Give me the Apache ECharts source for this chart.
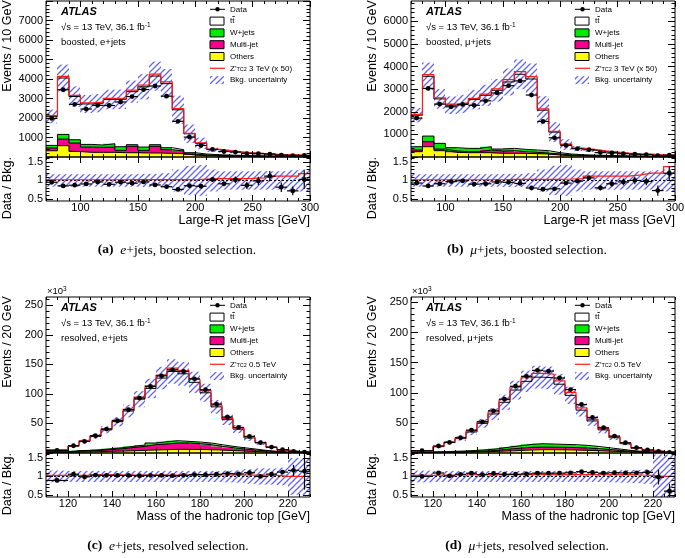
<!DOCTYPE html>
<html><head><meta charset="utf-8">
<script src="https://cdn.jsdelivr.net/npm/echarts@6.0.0/dist/echarts.min.js"></script>
<style>html,body{margin:0;padding:0;background:#fff;}#chart{width:685px;height:558px;}</style>
</head><body><div id="chart"></div>
<script>
// ---------- bin edges ----------
const boostedEdges = [70,80,90,100,110,120,130,140,150,160,170,180,190,200,210,220,230,240,250,260,270,280,290,300];
const resolvedEdges = [110,120,125,130,135,140,145,150,155,160,165,170,175,180,185,190,195,200,205,210,215,220,225,230];

// ---------- tick labels ----------
const boostedXTicks = [100,150,200,250,300];
const resolvedXTicks = [120,140,160,180,200,220];
const boostedEYTicks = [1000,2000,3000,4000,5000,6000,7000];
const boostedMuYTicks = [1000,2000,3000,4000,5000,6000];
const resolvedYTicks = [50,100,150,200,250];
const ratioYTicks = [0.5,1,1.5];

// ---------- (a) e+jets boosted ----------
const aData     = [1980,3450,2700,2460,2650,2640,2820,3100,3460,3640,3120,1830,1020,590,390,282,255,178,168,151,94,68,77];
const aDataErr  = [0.02,0.015,0.02,0.02,0.02,0.02,0.02,0.02,0.02,0.02,0.02,0.025,0.035,0.04,0.06,0.07,0.09,0.1,0.11,0.14,0.13,0.12,0.25];
const aTtbar    = [1484,2892,2215,2074,2146,2270,2433,2720,3090,3520,3284,2046,969,547,261,210,165,137,110,85,70,55,40];
const aWjets    = [136,238,170,136,119,170,187,85,170,85,102,68,68,51,34,32,34,17,20,15,15,15,13];
const aMultijet = [140,340,425,270,255,270,120,325,135,340,187,136,51,34,34,34,17,34,23,20,15,13,12];
const aOthers   = [320,580,290,240,240,240,220,220,205,205,187,170,102,68,51,34,34,17,17,15,15,12,10];
const aSignal   = [42,81,62,54,55,59,59,84,90,104,94,60,24,25,19,16,13,12,12,16,14,11,14];
const aBkgUnc   = [0.17,0.17,0.17,0.17,0.17,0.17,0.17,0.17,0.18,0.18,0.2,0.3,0.4,0.42,0.3,0.25,0.25,0.25,0.25,0.25,0.25,0.28,0.3];

// ---------- (b) mu+jets boosted ----------
const bData     = [1720,3035,2340,2220,2326,2286,2484,2832,3154,3367,2740,1573,850,512,368,321,194,180,148,125,107,58,79];
const bDataErr  = [0.02,0.015,0.02,0.02,0.02,0.02,0.02,0.02,0.02,0.02,0.02,0.025,0.035,0.045,0.05,0.06,0.07,0.08,0.09,0.1,0.1,0.14,0.2];
const bTtbar    = [1394,2644,1967,1878,1968,2158,2274,2597,2938,3322,3141,1791,909,419,275,215,173,138,104,83,74,50,41];
const bWjets    = [147,250,250,147,147,147,147,88,103,103,103,103,59,44,30,30,25,20,17,14,12,10,8];
const bMultijet = [74,220,74,59,44,44,118,103,117,73,59,44,44,29,25,20,17,18,15,13,11,9,8];
const bOthers   = [235,456,279,206,191,191,191,162,162,162,147,132,88,59,45,35,28,22,18,15,13,11,9];
const bSignal   = [37,71,51,46,47,51,55,59,100,117,104,62,33,22,19,36,29,24,18,19,22,16,25];
const bBkgUnc   = [0.17,0.17,0.17,0.17,0.17,0.17,0.17,0.17,0.18,0.18,0.2,0.3,0.4,0.42,0.3,0.25,0.25,0.25,0.25,0.25,0.25,0.28,0.3];

// ---------- (c) e+jets resolved (x10^3) ----------
const cData     = [4.4,12.3,19.6,29.2,40.5,54.6,73.2,92.9,112.6,130.6,140.8,138,125.6,107,82.8,60.8,43.3,28.1,17.5,10,5.6,2.8,1.6];
const cDataErr  = [0.02,0.01,0.01,0.01,0.01,0.01,0.005,0.005,0.005,0.005,0.005,0.005,0.005,0.005,0.005,0.01,0.01,0.01,0.02,0.03,0.06,0.15,0.5];
const cTtbar    = [2.74,7.7,15.3,22.5,32.0,44.0,59.8,77.6,92.4,107.7,117.2,114.3,101.0,85.0,64.0,45.0,31.5,18.7,13.0,6.6,3.3,1.3,0.8];
const cWjets    = [0.6,0.9,0.9,1.1,1.4,1.7,2.0,2.3,2.8,3.9,3.9,2.8,2.8,2.8,2.8,2.3,2.2,1.7,0.9,0.6,0.4,0.3,0.2];
const cMultijet = [0.8,1.5,1.8,2.3,3.1,4.0,5.4,6.7,9.0,9.6,10.7,10.7,9.9,8.5,6.2,4.8,3.4,2.6,1.8,1.1,0.6,0.4,0.2];
const cOthers   = [0.8,1.5,1.8,2.2,2.8,3.3,3.9,4.5,5.1,5.6,6.2,6.2,5.9,5.6,5.1,4.2,3.4,2.5,1.8,1.1,0.7,0.4,0.2];
const cSignal   = [0.15,0.35,0.6,1.1,1.6,2.1,2.8,3.6,4.4,5.1,5.5,5.4,4.8,4.1,3.1,2.3,1.6,1.0,0.7,0.3,0,0,0];
const cBkgUnc   = [0.16,0.15,0.15,0.15,0.15,0.15,0.15,0.15,0.15,0.15,0.15,0.15,0.15,0.15,0.15,0.16,0.17,0.2,0.22,0.22,0.24,0.5,0.5];

// ---------- (d) mu+jets resolved (x10^3) ----------
const dData     = [3.8,11.6,17.6,25.3,38,51.8,70,89.3,110.8,127.3,137.2,136,124.5,105.3,80.5,59,41.9,28.1,17,8.8,5,2.5,1.2];
const dDataErr  = [0.02,0.01,0.01,0.01,0.01,0.01,0.005,0.005,0.005,0.005,0.005,0.005,0.005,0.005,0.005,0.01,0.01,0.01,0.02,0.03,0.05,0.2,0.2];
const dTtbar    = [2.1,8.4,14.5,20.6,30.5,43.8,57.6,74.3,92.4,104.7,110.5,109.9,99.9,81.9,58.5,42.2,29.6,18.9,11.1,5.2,2.8,1.45,1.4];
const dWjets    = [0.5,0.7,1.0,1.1,1.6,2.0,2.7,3.4,4.1,4.9,5.6,5.3,4.9,4.8,4.4,3.8,3.0,2.2,1.4,0.9,0.6,0.4,0.2];
const dMultijet = [0.6,0.7,0.8,0.9,1.1,1.3,1.7,3.0,3.8,4.4,4.3,4.1,4.1,4.0,3.8,3.3,2.6,1.9,1.3,0.8,0.5,0.3,0.2];
const dOthers   = [0.6,0.8,1.0,1.3,1.7,2.2,2.8,3.5,4.2,5.0,5.5,5.5,5.3,5.0,4.5,3.9,3.2,2.5,1.7,1.1,0.6,0.4,0.2];
const dSignal   = [0.11,0.42,0.69,0.96,1.75,2.47,3.24,4.21,5.23,5.95,6.3,6.24,5.71,4.79,3.56,2.66,1.92,1.28,0.78,0.32,0.14,0,0];
const dBkgUnc   = [0.16,0.15,0.15,0.15,0.15,0.15,0.15,0.15,0.15,0.15,0.15,0.15,0.15,0.15,0.15,0.15,0.15,0.16,0.17,0.18,0.2,0.6,0.6];

// ---------- styling / layout ----------
const FONT = '"Liberation Sans", Arial, Helvetica, sans-serif';
const SERIF = '"Liberation Serif", "Times New Roman", serif';
const COL = {green:'#00ea00', pink:'#f5008c', yellow:'#ffff00', red:'#ff1a1a', hatch:'#6464e4'};
const RATIO_MIN = 0.44, RATIO_MAX = 1.64;
const PW = 264, MAIN_H = 156, RATIO_H = 44;

const hatchCanvas = (function(){
  const s = 6, c = document.createElement('canvas'); c.width = s; c.height = s;
  const g = c.getContext('2d'); g.strokeStyle = COL.hatch; g.lineWidth = 1.25;
  g.beginPath(); g.moveTo(0,s); g.lineTo(s,0); g.moveTo(-1,1); g.lineTo(1,-1); g.moveTo(s-1,s+1); g.lineTo(s+1,s-1); g.stroke();
  return c;
})();
const hatchFill = {image: hatchCanvas, repeat: 'repeat'};

function multiples(min, max, step){
  const out = []; const k0 = Math.ceil(min/step - 1e-9);
  for (let k = k0; k*step <= max + 1e-9; k++) out.push(+(k*step).toFixed(6));
  return out;
}

const panels = [
  {key:'a', left:46,  top:1,   ymax:8000, yTicks:boostedEYTicks, yStep:1000, yMinor:200, edges:boostedEdges, xmin:70, xmax:300, xTicks:boostedXTicks, xMinor:10,
   data:aData, err:aDataErr, ttbar:aTtbar, wjets:aWjets, multijet:aMultijet, others:aOthers, signal:aSignal, unc:aBkgUnc,
   yTitle:'Events / 10 GeV', xTitle:'Large-R jet mass [GeV]', region:'boosted, e+jets', sig:' 3 TeV (x 50)', cap:['(a)','e','+jets, boosted selection.'], capX:177, exp:false},
  {key:'b', left:411, top:1,   ymax:6900, yTicks:boostedMuYTicks, yStep:1000, yMinor:200, edges:boostedEdges, xmin:70, xmax:300, xTicks:boostedXTicks, xMinor:10,
   data:bData, err:bDataErr, ttbar:bTtbar, wjets:bWjets, multijet:bMultijet, others:bOthers, signal:bSignal, unc:bBkgUnc,
   yTitle:'Events / 10 GeV', xTitle:'Large-R jet mass [GeV]', region:'boosted, μ+jets', sig:' 3 TeV (x 50)', cap:['(b)','μ','+jets, boosted selection.'], capX:527, exp:false},
  {key:'c', left:46,  top:297, ymax:264, yTicks:resolvedYTicks, yStep:50, yMinor:10, edges:resolvedEdges, xmin:110, xmax:230, xTicks:resolvedXTicks, xMinor:5,
   data:cData, err:cDataErr, ttbar:cTtbar, wjets:cWjets, multijet:cMultijet, others:cOthers, signal:cSignal, unc:cBkgUnc,
   yTitle:'Events / 20 GeV', xTitle:'Mass of the hadronic top [GeV]', region:'resolved, e+jets', sig:' 0.5 TeV', cap:['(c)','e','+jets, resolved selection.'], capX:168, exp:true},
  {key:'d', left:411, top:297, ymax:259, yTicks:resolvedYTicks, yStep:50, yMinor:10, edges:resolvedEdges, xmin:110, xmax:230, xTicks:resolvedXTicks, xMinor:5,
   data:dData, err:dDataErr, ttbar:dTtbar, wjets:dWjets, multijet:dMultijet, others:dOthers, signal:dSignal, unc:dBkgUnc,
   yTitle:'Events / 20 GeV', xTitle:'Mass of the hadronic top [GeV]', region:'resolved, μ+jets', sig:' 0.5 TeV', cap:['(d)','μ','+jets, resolved selection.'], capX:527, exp:true}
];

const grids = [], xAxes = [], yAxes = [], series = [], graphics = [];

function addGrid(left, top, height, xmin, xmax, xMaj, xMin, xLabels, ymin, ymax, yMaj, yMin, yLabels){
  const gi = grids.length;
  grids.push({left, top, width:PW, height, show:true, borderColor:'#000', borderWidth:1, z:10, containLabel:false, outerBoundsMode:'none', backgroundColor:'transparent'});
  const common = {type:'value', gridIndex:gi, z:10, splitLine:{show:false}, axisLine:{show:false, onZero:false}, minorTick:{show:false}, minorSplitLine:{show:false}, scale:false};
  const tick = (vals, len) => ({show:true, inside:true, length:len, customValues:vals, lineStyle:{color:'#000', width:1}});
  const lab = (vals, margin) => vals ? {show:true, customValues:vals, margin, color:'#000', fontFamily:FONT, fontSize:11, formatter:v => String(v)} : {show:false};
  const xi = xAxes.length, yi = yAxes.length;
  [['bottom', xMaj, 6, xLabels], ['bottom', xMin, 3, null], ['top', xMaj, 6, null], ['top', xMin, 3, null]].forEach(([pos, vals, len, labels]) => {
    xAxes.push(Object.assign({}, common, {position:pos, min:xmin, max:xmax, axisTick:tick(vals, len), axisLabel:lab(labels, 1)}));
  });
  [['left', yMaj, 7, yLabels], ['left', yMin, 3.5, null], ['right', yMaj, 7, null], ['right', yMin, 3.5, null]].forEach(([pos, vals, len, labels]) => {
    yAxes.push(Object.assign({}, common, {position:pos, min:ymin, max:ymax, axisTick:tick(vals, len), axisLabel:lab(labels, 3)}));
  });
  return [xi, yi];
}

function binRects(ax, edges, lo, hi, style, z){
  return {type:'custom', xAxisIndex:ax[0], yAxisIndex:ax[1], z, clip:true, silent:true, animation:false,
    encode:{x:[0,1], y:[2,3]},
    data: lo.map((l,i) => [edges[i], edges[i+1], l, hi[i]]),
    renderItem:(p, api) => {
      const a = api.coord([api.value(0), api.value(2)]), b = api.coord([api.value(1), api.value(3)]);
      const x0 = Math.round(a[0]), x1 = Math.round(b[0]);
      return {type:'rect', shape:{x:x0, y:Math.min(a[1],b[1]), width:x1-x0, height:Math.abs(a[1]-b[1])}, style};
    }};
}

function stepLine(ax, edges, vals, color, width, z, type){
  return {type:'line', xAxisIndex:ax[0], yAxisIndex:ax[1], step:'end', symbol:'none', silent:true, animation:false, z, clip:true,
    data: edges.map((e,i) => [e, vals[Math.min(i, vals.length-1)]]),
    lineStyle:{color, width, type:type || 'solid'}};
}

function dataPoints(ax, edges, vals, errs, z){
  return {type:'custom', xAxisIndex:ax[0], yAxisIndex:ax[1], z, clip:true, silent:true, animation:false,
    encode:{x:[0,1,2], y:[3]},
    data: vals.map((v,i) => [edges[i], edges[i+1], (edges[i]+edges[i+1])/2, v, errs[i]]),
    renderItem:(p, api) => {
      const c = api.coord([api.value(2), api.value(3)]);
      const l = api.coord([api.value(0), api.value(3)]), r = api.coord([api.value(1), api.value(3)]);
      const t = api.coord([api.value(2), api.value(3)+api.value(4)]), b = api.coord([api.value(2), api.value(3)-api.value(4)]);
      const ls = {stroke:'#000', lineWidth:1.2};
      return {type:'group', children:[
        {type:'line', shape:{x1:l[0], y1:c[1], x2:r[0], y2:c[1]}, style:ls},
        {type:'line', shape:{x1:c[0], y1:t[1], x2:c[0], y2:b[1]}, style:ls},
        {type:'circle', shape:{cx:c[0], cy:c[1], r:2.4}, style:{fill:'#000'}}
      ]};
    }};
}

function txt(x, y, text, font, extra){
  return Object.assign({type:'text', x, y, z:100, silent:true,
    style:Object.assign({text, font, fill:'#000', textAlign:'left', align:'left', textVerticalAlign:'middle', verticalAlign:'middle'}, (extra && extra.style) || {})},
    extra ? {rotation: extra.rotation || 0} : {});
}

panels.forEach(P => {
  const cum1 = P.others.slice();
  const cum2 = cum1.map((v,i) => v + P.multijet[i]);
  const cum3 = cum2.map((v,i) => v + P.wjets[i]);
  const total = cum3.map((v,i) => v + P.ttbar[i]);
  const withSig = total.map((v,i) => v + P.signal[i]);
  const zeros = total.map(() => 0);

  const mainAx = addGrid(P.left, P.top, MAIN_H, P.xmin, P.xmax, P.xTicks, multiples(P.xmin, P.xmax, P.xMinor), null,
    0, P.ymax, multiples(0, P.ymax, P.yStep), multiples(0, P.ymax, P.yMinor), P.yTicks);
  const ratAx = addGrid(P.left, P.top + MAIN_H, RATIO_H, P.xmin, P.xmax, P.xTicks, multiples(P.xmin, P.xmax, P.xMinor), P.xTicks,
    RATIO_MIN, RATIO_MAX, ratioYTicks, multiples(RATIO_MIN, RATIO_MAX, 0.1), ratioYTicks);

  // main stack fills
  series.push(binRects(mainAx, P.edges, zeros, cum1, {fill:COL.yellow}, 2));
  series.push(binRects(mainAx, P.edges, cum1, cum2, {fill:COL.pink}, 2));
  series.push(binRects(mainAx, P.edges, cum2, cum3, {fill:COL.green}, 2));
  // uncertainty band
  series.push(binRects(mainAx, P.edges, total.map((v,i) => v*(1-P.unc[i])), total.map((v,i) => v*(1+P.unc[i])), {fill:hatchFill}, 3));
  // outlines
  [cum1, cum2, cum3, total].forEach(arr => series.push(stepLine(mainAx, P.edges, arr, '#000', 1, 4)));
  series.push(stepLine(mainAx, P.edges, withSig, COL.red, 1.2, 5));
  series.push(dataPoints(mainAx, P.edges, P.data, P.err.map((e,i) => e*total[i]), 6));

  // ratio
  series.push(binRects(ratAx, P.edges, P.unc.map(u => 1-u), P.unc.map(u => 1+u), {fill:hatchFill}, 3));
  series.push(stepLine(ratAx, [P.xmin, P.xmax], [1], '#000', 1, 4, [2,2]));
  series.push(stepLine(ratAx, P.edges, withSig.map((v,i) => v/total[i]), COL.red, 1.2, 5));
  series.push(dataPoints(ratAx, P.edges, P.data.map((v,i) => v/total[i]), P.err, 6));

  // ---- texts ----
  const L = P.left, T = P.top;
  graphics.push(txt(L-38, T-1, P.yTitle, '12.6px ' + FONT, {rotation:Math.PI/2, style:{textAlign:'right', align:'right'}}));
  graphics.push(txt(L-38, T+MAIN_H, 'Data / Bkg.', '12.6px ' + FONT, {rotation:Math.PI/2, style:{textAlign:'right', align:'right'}}));
  graphics.push(txt(L+PW, T+MAIN_H+RATIO_H+20, P.xTitle, '12.6px ' + FONT, {style:{textAlign:'right', align:'right'}}));
  graphics.push(txt(L+15, T+11, 'ATLAS', 'italic bold 11px ' + FONT));
  graphics.push(txt(L+15, T+26, '√s = 13 TeV, 36.1 fb{sup|-1}', '9.5px ' + FONT,
    {style:{rich:{sup:{font:'6.5px ' + FONT, verticalAlign:'top', lineHeight:8}}}}));
  graphics.push(txt(L+15, T+41, P.region, '9.5px ' + FONT));
  if (P.exp) graphics.push(txt(L+1, T-6, '×10{sup|3}', '9.5px ' + FONT,
    {style:{rich:{sup:{font:'6.5px ' + FONT, verticalAlign:'top', lineHeight:8}}}}));

  // legend
  const bx = L + 164, tx = L + 184, ly = k => T + 8.3 + 11.8*k;
  const lf = '8px ' + FONT;
  graphics.push({type:'line', z:100, silent:true, shape:{x1:bx, y1:ly(0), x2:bx+15, y2:ly(0)}, style:{stroke:'#000', lineWidth:1}});
  graphics.push({type:'circle', z:101, silent:true, shape:{cx:bx+7.5, cy:ly(0), r:2.2}, style:{fill:'#000'}});
  [['#ffffff',1],[COL.green,2],[COL.pink,3],[COL.yellow,4]].forEach(([c,k]) => {
    graphics.push({type:'rect', z:100, silent:true, shape:{x:bx, y:ly(k)-4, width:14, height:8}, style:{fill:c, stroke:'#000', lineWidth:1}});
  });
  graphics.push({type:'line', z:100, silent:true, shape:{x1:bx, y1:ly(5), x2:bx+15, y2:ly(5)}, style:{stroke:COL.red, lineWidth:1.2}});
  graphics.push({type:'rect', z:100, silent:true, shape:{x:bx, y:ly(6)-4, width:14, height:8}, style:{fill:hatchFill}});
  graphics.push(txt(tx, ly(0), 'Data', lf));
  graphics.push(txt(tx, ly(1), 'tt', lf));
  graphics.push({type:'line', z:100, silent:true, shape:{x1:tx+2.4, y1:ly(1)-4.6, x2:tx+4.8, y2:ly(1)-4.6}, style:{stroke:'#000', lineWidth:0.8}});
  graphics.push(txt(tx, ly(2), 'W+jets', lf));
  graphics.push(txt(tx, ly(3), 'Multi-jet', lf));
  graphics.push(txt(tx, ly(4), 'Others', lf));
  graphics.push(txt(tx, ly(5), "Z'{sub|TC2}" + P.sig, lf, {style:{rich:{sub:{font:'5.5px ' + FONT, verticalAlign:'bottom', lineHeight:7}}}}));
  graphics.push(txt(tx, ly(6), 'Bkg. uncertainty', lf));

  // caption
  graphics.push(txt(P.capX, T + 249, '{b|' + P.cap[0] + '}  {i|' + P.cap[1] + '}' + P.cap[2], '13.5px ' + SERIF,
    {style:{textAlign:'center', align:'center', rich:{b:{font:'bold 13.5px ' + SERIF}, i:{font:'italic 13.5px ' + SERIF}}}}));
});

const chart = echarts.init(document.getElementById('chart'), null, {renderer:'canvas', width:685, height:558});
chart.setOption({
  animation:false,
  backgroundColor:'#ffffff',
  grid:grids, xAxis:xAxes, yAxis:yAxes, series,
  graphic:{elements:graphics}
});
</script></body></html>
